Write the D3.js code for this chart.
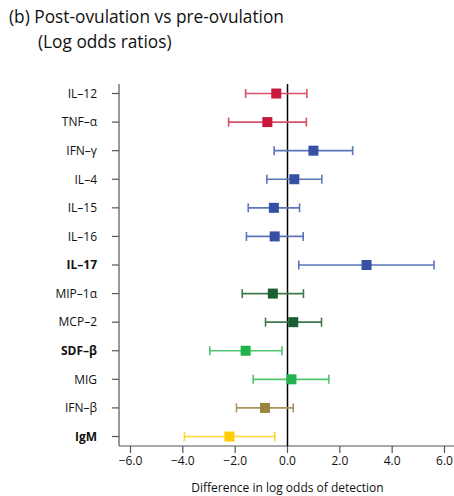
<!DOCTYPE html>
<html><head><meta charset="utf-8">
<script src="https://cdn.jsdelivr.net/npm/d3@7"></script>
<style>body{margin:0;background:#fff}svg{display:block}</style>
</head><body>
<script>
const categories = ["IL\u201312","TNF\u2013\u03b1","IFN\u2013\u03b3","IL\u20134","IL\u201315","IL\u201316","IL\u201317","MIP\u20131\u03b1","MCP\u20132","SDF\u2013\u03b2","MIG","IFN\u2013\u03b2","IgM"];
const estimates = [-0.43,-0.77,0.99,0.26,-0.52,-0.49,3.02,-0.56,0.22,-1.60,0.15,-0.86,-2.22];
const lower    = [-1.60,-2.25,-0.51,-0.79,-1.50,-1.57,0.43,-1.73,-0.84,-2.97,-1.31,-1.95,-3.94];
const upper    = [0.74,0.72,2.49,1.31,0.46,0.60,5.60,0.61,1.30,-0.21,1.58,0.22,-0.49];
const groups   = ["red","red","blue","blue","blue","blue","blue","dkgreen","dkgreen","green","green","olive","gold"];
const boldLabels = ["IL\u201317","SDF\u2013\u03b2","IgM"];
const xTicks = [-6,-4,-2,0,2,4,6];

const squareColor = {red:"#c8173a",blue:"#3451a3",dkgreen:"#1b5e30",green:"#22b24c",olive:"#9a8440",gold:"#ffcc00"};
const barColor = {red:"#d9506a",blue:"#5b74ba",dkgreen:"#3b7a4b",green:"#4ec56c",olive:"#a8955a",gold:"#ffd633"};

const W=454,H=496;
const svg=d3.select("body").append("svg").attr("width",W).attr("height",H);
const font="'Open Sans', 'Noto Sans', sans-serif";

svg.append("text").attr("x",9).attr("y",23).attr("font-family",font).attr("font-size",17.3).attr("fill","#111")
  .text("(b) Post-ovulation vs pre-ovulation");
svg.append("text").attr("x",38).attr("y",48).attr("font-family",font).attr("font-size",17.3).attr("fill","#111")
  .text("(Log odds ratios)");

const x=d3.scaleLinear().domain([-6,6]).range([130.5,444.5]);
const y=d3.scalePoint().domain(categories).range([93.5,436.5]);
const pLeft=119, pTop=84, pBottom=446, pRight=454;

svg.append("line").attr("x1",pLeft).attr("x2",pLeft).attr("y1",pTop).attr("y2",pBottom).attr("stroke","#555").attr("stroke-width",1.2);
svg.append("line").attr("x1",pLeft).attr("x2",pRight).attr("y1",pBottom).attr("y2",pBottom).attr("stroke","#555").attr("stroke-width",1.2);

const gy=svg.append("g");
categories.forEach(c=>{
  gy.append("line").attr("x1",112).attr("x2",pLeft).attr("y1",y(c)).attr("y2",y(c)).attr("stroke","#555").attr("stroke-width",1.2);
  gy.append("text").attr("x",97).attr("y",y(c)).attr("dy","0.36em").attr("text-anchor","end")
    .attr("font-family",font).attr("font-size",12).attr("fill","#111")
    .attr("font-weight",boldLabels.includes(c)?"bold":"normal").text(c);
});

const gx=svg.append("g");
xTicks.forEach(t=>{
  gx.append("line").attr("x1",x(t)).attr("x2",x(t)).attr("y1",pBottom).attr("y2",pBottom+7).attr("stroke","#555").attr("stroke-width",1.2);
  gx.append("text").attr("x",x(t)).attr("y",pBottom+19).attr("text-anchor","middle")
    .attr("font-family",font).attr("font-size",12).attr("fill","#111")
    .text((t<0?"\u2212":"")+Math.abs(t).toFixed(1));
});
svg.append("text").attr("x",x(0)).attr("y",492).attr("text-anchor","middle")
  .attr("font-family",font).attr("font-size",12).attr("fill","#111").text("Difference in log odds of detection");

svg.append("line").attr("x1",x(0)).attr("x2",x(0)).attr("y1",pTop).attr("y2",pBottom).attr("stroke","#000").attr("stroke-width",1.5);

const g=svg.append("g");
categories.forEach((c,i)=>{
  const col=barColor[groups[i]], yy=y(c);
  g.append("line").attr("x1",x(lower[i])).attr("x2",x(upper[i])).attr("y1",yy).attr("y2",yy).attr("stroke",col).attr("stroke-width",1.6);
  [lower[i],upper[i]].forEach(v=>g.append("line").attr("x1",x(v)).attr("x2",x(v)).attr("y1",yy-4.5).attr("y2",yy+4.5).attr("stroke",col).attr("stroke-width",1.6));
  g.append("rect").attr("x",x(estimates[i])-5).attr("y",yy-5).attr("width",10).attr("height",10).attr("fill",squareColor[groups[i]]);
});
</script>
</body></html>
